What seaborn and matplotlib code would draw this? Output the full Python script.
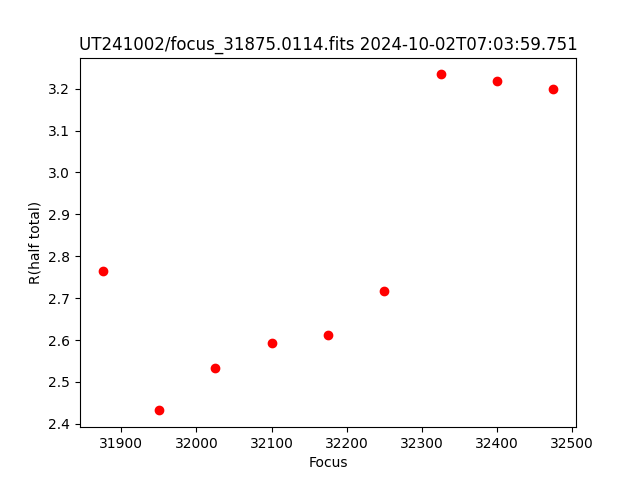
import matplotlib
matplotlib.use("Agg")
import matplotlib.pyplot as plt
import pandas as pd
import seaborn as sns

focus = [31875, 31950, 32025, 32100, 32175, 32250, 32325, 32400, 32475]
r_half = [2.764, 2.432, 2.534, 2.594, 2.613, 2.718, 3.234, 3.218, 3.199]
title = "UT241002/focus_31875.0114.fits 2024-10-02T07:03:59.751"

df = pd.DataFrame({"Focus": focus, "R(half total)": r_half})

fig, ax = plt.subplots(figsize=(6.4, 4.8), dpi=100)
sns.scatterplot(data=df, x="Focus", y="R(half total)", color="red",
                s=36, linewidth=1, edgecolor="red", ax=ax)
ax.set_title(title)
fig.savefig("out.png")
